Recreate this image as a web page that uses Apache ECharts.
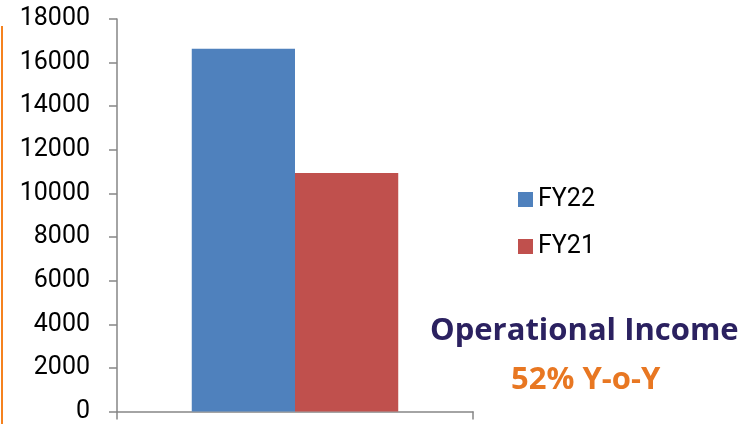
<!DOCTYPE html>
<html>
<head>
<meta charset="utf-8" />
<title>Operational Income</title>
<script src="https://cdn.jsdelivr.net/npm/echarts@6/dist/echarts.min.js"></script>
<style>
  html, body { margin: 0; padding: 0; background: #fff; }
  #chart { width: 743px; height: 424px; }
</style>
</head>
<body>
<div id="chart"></div>
<script>
  // data
  var categories = [''];
  var seriesNames = ['FY22', 'FY21'];
  var fy22 = [16630];
  var fy21 = [10940];
  var yTicks = { min: 0, max: 18000, interval: 2000 };

  var myChart = echarts.init(document.getElementById('chart'));

  var option = {
    animation: false,
    color: ['#4f81bd', '#c0504d'],
    grid: { left: 117, right: 270, top: 19, bottom: 9 },
    legend: {
      data: seriesNames,
      orient: 'vertical',
      left: 513,
      top: 182,
      icon: 'rect',
      itemWidth: 15,
      itemHeight: 15,
      itemGap: 22,
      textStyle: { fontFamily: 'Roboto', fontSize: 25, color: '#000' }
    },
    xAxis: {
      type: 'category',
      data: categories,
      axisLine: { lineStyle: { color: '#868686', width: 1.5 } },
      axisTick: { show: true, length: 8, lineStyle: { color: '#868686', width: 1.5 } },
      axisLabel: { show: false }
    },
    yAxis: {
      type: 'value',
      min: yTicks.min,
      max: yTicks.max,
      interval: yTicks.interval,
      axisLine: { show: true, lineStyle: { color: '#868686', width: 1.5 } },
      axisTick: { show: true, length: 8, lineStyle: { color: '#868686', width: 1.5 } },
      splitLine: { show: false },
      axisLabel: {
        margin: 27, fontFamily: 'Roboto', fontSize: 25, color: '#000',
        formatter: function (v) { return String(v); }
      }
    },
    series: [
      { name: seriesNames[0], type: 'bar', data: fy22, barGap: '0%', barCategoryGap: '42%' },
      { name: seriesNames[1], type: 'bar', data: fy21, barGap: '0%', barCategoryGap: '42%' }
    ],
    graphic: [
      // orange rule at the left edge
      { type: 'rect', left: 1, top: 26, shape: { width: 2, height: 398 }, style: { fill: '#f5821f' } },
      {
        type: 'text', left: 430, top: 316,
        style: { text: 'Operational Income', fill: '#2b2160', font: 'bold 31px "Open Sans"' }
      },
      {
        type: 'text', left: 511, top: 365,
        style: { text: '52% Y-o-Y', fill: '#e87722', font: 'bold 31px "Open Sans"' }
      }
    ]
  };

  myChart.setOption(option);
</script>
</body>
</html>
